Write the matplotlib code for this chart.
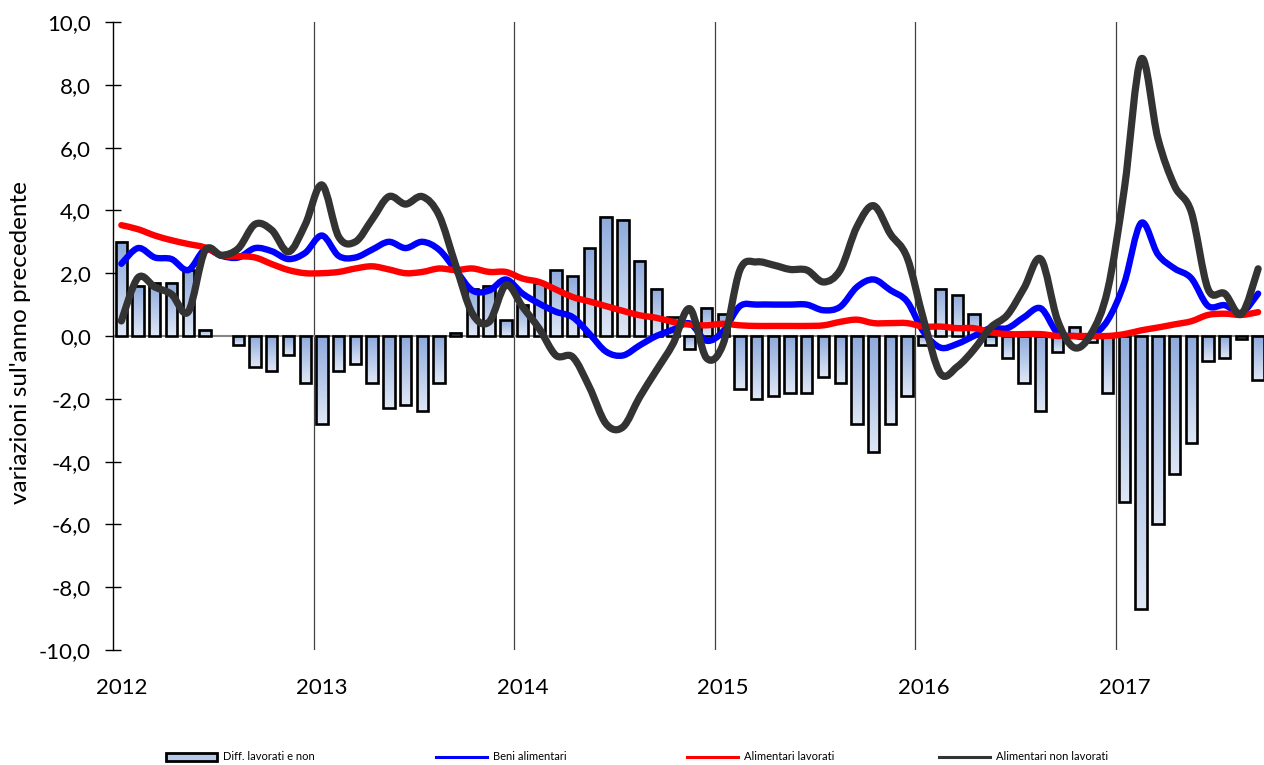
import matplotlib
matplotlib.use("Agg")
import matplotlib.pyplot as plt
import numpy as np
from matplotlib.path import Path
from matplotlib.patches import PathPatch, Patch
from matplotlib.lines import Line2D
from matplotlib.colors import LinearSegmentedColormap
from matplotlib.ticker import FuncFormatter, MultipleLocator

plt.rcParams['font.family'] = ['Lato', 'DejaVu Sans']

# monthly data, Jan 2012 - Sep 2017
years = ['2012', '2013', '2014', '2015', '2016', '2017']

diff = [3.0, 1.6, 1.7, 1.7, 2.1, 0.2, 0.0, -0.3, -1.0, -1.1, -0.6, -1.5,
        -2.8, -1.1, -0.9, -1.5, -2.3, -2.2, -2.4, -1.5, 0.1, 1.5, 1.6, 0.5,
        1.0, 1.7, 2.1, 1.9, 2.8, 3.8, 3.7, 2.4, 1.5, 0.6, -0.4, 0.9,
        0.7, -1.7, -2.0, -1.9, -1.8, -1.8, -1.3, -1.5, -2.8, -3.7, -2.8, -1.9,
        -0.3, 1.5, 1.3, 0.7, -0.3, -0.7, -1.5, -2.4, -0.5, 0.3, -0.2, -1.8,
        -5.3, -8.7, -6.0, -4.4, -3.4, -0.8, -0.7, -0.1, -1.4]

beni = [2.3, 2.8, 2.5, 2.45, 2.1, 2.75, 2.55, 2.5, 2.8, 2.7, 2.45, 2.65,
        3.2, 2.55, 2.5, 2.75, 3.0, 2.8, 3.0, 2.75, 2.1, 1.45, 1.45, 1.8,
        1.35, 1.03, 0.77, 0.6, 0.07, -0.5, -0.62, -0.3, 0.0, 0.2, 0.4, -0.15,
        0.15, 0.95, 1.0, 1.0, 1.0, 1.0, 0.82, 0.93, 1.56, 1.8, 1.46, 1.1,
        0.12, -0.37, -0.25, 0.0, 0.25, 0.25, 0.6, 0.88, 0.1, 0.0, 0.0, 0.5,
        1.7, 3.6, 2.6, 2.15, 1.84, 0.96, 0.98, 0.74, 1.35]

lavorati = [3.53, 3.4, 3.2, 3.05, 2.93, 2.82, 2.57, 2.54, 2.5, 2.29, 2.1, 2.0,
            2.0, 2.04, 2.15, 2.22, 2.12, 2.0, 2.04, 2.15, 2.1, 2.15, 2.04, 2.04,
            1.83, 1.72, 1.48, 1.24, 1.1, 0.95, 0.8, 0.66, 0.58, 0.45, 0.36, 0.34,
            0.39, 0.34, 0.32, 0.32, 0.32, 0.32, 0.34, 0.45, 0.52, 0.41, 0.41, 0.41,
            0.3, 0.3, 0.25, 0.25, 0.12, 0.06, 0.06, 0.06, 0.0, 0.0, 0.0, 0.0,
            0.06, 0.18, 0.27, 0.37, 0.47, 0.67, 0.71, 0.67, 0.76]

non_lavorati = [0.48, 1.86, 1.56, 1.33, 0.77, 2.71, 2.57, 2.79, 3.56, 3.37, 2.68, 3.55,
                4.81, 3.16, 3.0, 3.71, 4.44, 4.2, 4.44, 3.85, 2.25, 0.71, 0.45, 1.62,
                0.93, 0.23, -0.62, -0.67, -1.63, -2.8, -2.9, -1.95, -1.1, -0.25, 0.87, -0.7,
                -0.25, 2.1, 2.36, 2.26, 2.12, 2.1, 1.72, 2.1, 3.48, 4.15, 3.25, 2.5,
                0.5, -1.2, -0.98, -0.43, 0.27, 0.67, 1.53, 2.45, 0.5, -0.37, 0.06, 1.47,
                4.7, 8.82, 6.3, 4.78, 3.95, 1.5, 1.35, 0.7, 2.14]

labels = ['Diff. lavorati e non', 'Beni alimentari', 'Alimentari lavorati', 'Alimentari non lavorati']


def smooth_path(xs, ys):
    # excel-like smoothed line: bezier through every point
    n = len(xs)
    verts = [(xs[0], ys[0])]
    codes = [Path.MOVETO]
    for i in range(n - 1):
        a = max(i - 1, 0)
        b = min(i + 2, n - 1)
        c1 = (xs[i] + (xs[i + 1] - xs[a]) / 6, ys[i] + (ys[i + 1] - ys[a]) / 6)
        c2 = (xs[i + 1] - (xs[b] - xs[i]) / 6, ys[i + 1] - (ys[b] - ys[i]) / 6)
        verts += [c1, c2, (xs[i + 1], ys[i + 1])]
        codes += [Path.CURVE4] * 3
    return Path(verts, codes)


fig = plt.figure(figsize=(12.64, 7.65), dpi=100)
ax = fig.add_axes([113 / 1264, 1 - 650 / 765, 1153.5 / 1264, 628 / 765])

x = np.arange(len(diff))
bars = ax.bar(x, diff, width=0.68, facecolor='none', edgecolor='black', linewidth=1.9, zorder=4)

cmap = LinearSegmentedColormap.from_list('bar', ['#dfe7f5', '#8eaadc'])
grad = np.linspace(0, 1, 64).reshape(-1, 1)
for r in bars:
    x0, y0 = r.get_x(), r.get_y()
    w, h = r.get_width(), r.get_height()
    if h == 0:
        r.set_linewidth(0)
        continue
    lo, hi = min(y0, y0 + h), max(y0, y0 + h)
    ax.imshow(grad, extent=[x0, x0 + w, lo, hi], origin='lower', aspect='auto',
              cmap=cmap, interpolation='bilinear', zorder=3)

ax.axhline(0, color='#868686', lw=1.5, zorder=2)
for k in range(1, 6):
    ax.axvline(12 * k - 0.5, color='#404040', lw=0.9, zorder=1)

series = [(beni, '#0000ff', 4.6), (lavorati, '#ff0000', 4.6), (non_lavorati, '#333333', 5.2)]
for i, (vals, col, lw) in enumerate(series):
    p = PathPatch(smooth_path(x, vals), facecolor='none', edgecolor=col, lw=lw,
                  capstyle='round', joinstyle='round', zorder=5 + i)
    ax.add_patch(p)

ax.set_xlim(-0.5, 68.5)
ax.set_ylim(-10, 10)
ax.yaxis.set_major_locator(MultipleLocator(2))
ax.yaxis.set_major_formatter(FuncFormatter(lambda v, pos: f'{v:.1f}'.replace('.', ',')))
ax.set_xticks(np.arange(0, 61, 12))
ax.set_xticklabels(years)
ax.tick_params(axis='x', length=0, pad=20, labelsize=16)
ax.tick_params(axis='y', direction='inout', length=12, width=1, pad=10, labelsize=16)
for s in ['top', 'right', 'bottom']:
    ax.spines[s].set_visible(False)
ax.spines['left'].set_linewidth(1)
ax.set_ylabel("variazioni sul'anno precedente", fontsize=17.5)
ax.yaxis.set_label_coords(-0.071, 0.49)

# legend entries sit at fixed spots along the bottom
handles = [Patch(facecolor='#b7c9e9', edgecolor='black', linewidth=2),
           Line2D([], [], color='#0000ff', lw=2.2),
           Line2D([], [], color='#ff0000', lw=2.2),
           Line2D([], [], color='#333333', lw=2.2)]
leg_x = [166, 436, 687, 939]
for h, lab, lx in zip(handles, labels, leg_x):
    fig.legend([h], [lab], loc='center left', bbox_to_anchor=(lx / 1264, 1 - 757 / 765),
               frameon=False, fontsize=8, handlelength=4.6, handleheight=0.7,
               handletextpad=0.5, borderpad=0, borderaxespad=0)

fig.savefig('out.png', dpi=100)
